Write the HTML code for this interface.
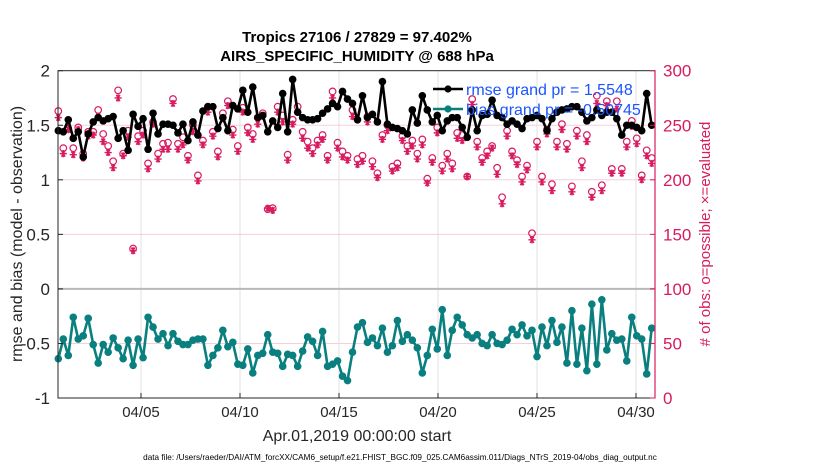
<!DOCTYPE html>
<html><head><meta charset="utf-8"><style>
body{margin:0;background:#fff;}
svg{display:block;font-family:"Liberation Sans",sans-serif;}
</style></head><body>
<svg id="chart" width="830" height="470" viewBox="0 0 830 470">
<g id="grid"></g><g id="marks"></g><g id="axes"></g>
</svg>
<script>
const rmse=[1.45,1.44,1.55,1.38,1.44,1.21,1.42,1.53,1.57,1.54,1.56,1.58,1.38,1.45,1.27,1.60,1.49,1.56,1.28,1.61,1.42,1.51,1.51,1.50,1.43,1.51,1.36,1.53,1.41,1.63,1.67,1.67,1.47,1.57,1.45,1.68,1.65,1.82,1.62,1.85,
1.57,1.59,1.44,1.54,1.48,1.79,1.44,1.92,1.62,1.57,1.55,1.55,1.56,1.61,1.65,1.70,1.67,1.81,1.74,1.70,1.55,1.77,1.57,1.60,1.53,1.90,1.51,1.48,1.47,1.45,1.42,1.64,1.52,1.77,1.64,1.53,1.59,1.45,1.54,
1.57,1.57,1.48,1.39,1.64,1.45,1.59,1.60,1.73,1.59,1.57,1.51,1.54,1.51,1.47,1.56,1.57,1.59,1.56,1.45,1.56,1.62,1.64,1.65,1.67,1.67,1.62,1.54,1.57,1.64,1.59,1.62,1.62,1.56,1.41,1.50,1.50,1.48,1.45,1.79,1.50];
const bias=[-0.64,-0.46,-0.61,-0.26,-0.46,-0.43,-0.27,-0.51,-0.68,-0.51,-0.58,-0.45,-0.54,-0.64,-0.47,-0.70,-0.46,-0.63,-0.26,-0.35,-0.46,-0.41,-0.52,-0.41,-0.48,-0.51,-0.51,-0.47,-0.46,-0.46,-0.70,-0.61,-0.54,-0.38,-0.53,-0.49,-0.69,-0.70,-0.55,-0.77,
-0.61,-0.59,-0.42,-0.58,-0.59,-0.71,-0.60,-0.61,-0.71,-0.57,-0.44,-0.48,-0.61,-0.39,-0.71,-0.69,-0.66,-0.80,-0.84,-0.58,-0.35,-0.31,-0.49,-0.45,-0.52,-0.36,-0.58,-0.52,-0.29,-0.48,-0.42,-0.47,-0.54,-0.77,-0.61,-0.37,-0.55,-0.19,-0.61,
-0.38,-0.26,-0.33,-0.42,-0.45,-0.42,-0.50,-0.52,-0.42,-0.50,-0.51,-0.47,-0.37,-0.42,-0.33,-0.43,-0.38,-0.62,-0.35,-0.52,-0.29,-0.49,-0.35,-0.68,-0.20,-0.69,-0.36,-0.75,-0.14,-0.69,-0.10,-0.56,-0.41,-0.47,-0.46,-0.66,-0.26,-0.43,-0.46,-0.78,-0.36];
const possible=[263,229,247,229,248,224,244,244,264,242,231,217,282,224,245,137,240,245,215,253,224,233,234,274,233,239,222,250,204,236,267,244,226,261,272,246,231,266,248,242,
257,261,173,174,267,259,223,255,267,244,235,229,236,241,222,281,234,226,222,264,219,222,258,217,206,241,250,212,215,240,231,236,224,237,201,220,248,213,224,
215,243,241,203,274,235,220,226,231,211,184,245,226,218,203,213,151,235,203,246,196,235,251,233,194,245,217,241,189,277,195,272,210,272,210,235,254,238,204,227,220];
const evaluated=[257,224,246,223,246,220,240,241,258,235,225,211,275,222,239,135,235,241,210,251,219,228,228,270,228,232,218,244,199,232,262,240,221,256,268,241,226,262,243,237,
251,258,174,172,262,253,218,251,262,238,229,224,232,237,218,275,229,221,218,258,214,217,253,212,202,237,245,208,211,236,226,231,219,232,197,216,243,208,219,
210,238,236,203,269,230,216,222,229,205,178,240,222,214,198,209,145,230,198,242,190,230,246,228,189,240,211,235,184,270,190,268,206,265,206,230,249,233,200,222,215];
const leftTicks=[-1,-0.5,0,0.5,1,1.5,2];
const rightTicks=[0,50,100,150,200,250,300];
const dateTicks=[5,10,15,20,25,30];
const dateLabels=["04/05","04/10","04/15","04/20","04/25","04/30"];

const NS="http://www.w3.org/2000/svg";
const X0=58,X1=655,Y0=70.7,Y1=398;
const yL=v=>Y1-(v+1)/3*(Y1-Y0);
const yR=v=>Y1-v/300*(Y1-Y0);
const xDay=d=>141+(d-5)*19.8;
const xIdx=(i,n)=>58.3+i*(651.7-58.3)/(n-1);
function el(t,a,p){const e=document.createElementNS(NS,t);for(const k in a)e.setAttribute(k,a[k]);p.appendChild(e);return e;}
const grid=document.getElementById('grid'),marks=document.getElementById('marks'),axes=document.getElementById('axes');
el('rect',{x:X0,y:Y0,width:X1-X0,height:Y1-Y0,fill:'#fff'},grid);
dateTicks.forEach(d=>{const l=el('line',{x1:xDay(d),x2:xDay(d),y1:Y0,y2:Y1,stroke:'#e0e0e0','stroke-width':1},grid);

});
[-0.5,0.5,1,1.5].forEach(v=>{const l=el('line',{x1:X0,x2:X1,y1:yL(v),y2:yL(v),stroke:'#f5cfdc','stroke-width':1},grid);

});
const z=el('line',{x1:X0,x2:X1,y1:yL(0),y2:yL(0),stroke:'#b8b8b8','stroke-width':2},grid);



possible.forEach((v,i)=>{const c=el('circle',{cx:xIdx(i,possible.length),cy:yR(v),r:3.3,fill:'none',stroke:'#d81b60','stroke-width':1.2},marks);

});
evaluated.forEach((v,i)=>{const cx=xIdx(i,evaluated.length),cy=yR(v),r=3.6;
const d=`M${cx-r},${cy}H${cx+r}M${cx-r*0.5},${cy-r*0.87}L${cx+r*0.5},${cy+r*0.87}M${cx-r*0.5},${cy+r*0.87}L${cx+r*0.5},${cy-r*0.87}M${cx},${cy-r}V${cy+r}`;
const p=el('path',{d:d,stroke:'#d81b60','stroke-width':1.4,fill:'none'},marks);

});

function series(arr,color,name){
  const pts=arr.map((v,i)=>xIdx(i,arr.length).toFixed(1)+','+yL(v).toFixed(1)).join(' ');
  const pl=el('polyline',{points:pts,fill:'none',stroke:color,'stroke-width':2.6,'stroke-linejoin':'round'},marks);
  
  
  arr.forEach((v,i)=>{const c=el('circle',{cx:xIdx(i,arr.length),cy:yL(v),r:3.8,fill:color},marks);
  
  });
}
series(rmse,'#000','rmse');
series(bias,'#0a7f7f','bias');

el('rect',{x:X0,y:Y0,width:X1-X0,height:Y1-Y0,fill:'none',stroke:'#262626','stroke-width':1},axes);
el('line',{x1:X1,x2:X1,y1:Y0,y2:Y1,stroke:'#d81b60','stroke-width':1.2},axes);
leftTicks.forEach(v=>{el('line',{x1:X0,x2:X0+5,y1:yL(v),y2:yL(v),stroke:'#262626'},axes);
const t=el('text',{x:X0-8,y:yL(v)+6,'text-anchor':'end','font-size':17,fill:'#262626'},axes);t.textContent=String(v);

});
rightTicks.forEach(v=>{el('line',{x1:X1-5,x2:X1,y1:yR(v),y2:yR(v),stroke:'#d81b60'},axes);
const t=el('text',{x:X1+8,y:yR(v)+6,'font-size':17,fill:'#d81b60'},axes);t.textContent=String(v);

});
dateTicks.forEach((d,i)=>{el('line',{x1:xDay(d),x2:xDay(d),y1:Y1-5,y2:Y1,stroke:'#262626'},axes);
const t=el('text',{x:xDay(d),y:417,'text-anchor':'middle','font-size':15,fill:'#262626'},axes);t.textContent=dateLabels[i];

});
</script>
<svg style="position:absolute;left:0;top:0" width="830" height="470">
<text x="357" y="42" text-anchor="middle" font-size="15" font-weight="bold" fill="#000">Tropics 27106 / 27829 = 97.402%</text>
<text x="357" y="61" text-anchor="middle" font-size="15" font-weight="bold" fill="#000">AIRS_SPECIFIC_HUMIDITY @ 688 hPa</text>
<text transform="translate(22,234) rotate(-90)" text-anchor="middle" font-size="16" fill="#262626">rmse and bias (model - observation)</text>
<text transform="translate(710,234) rotate(-90)" text-anchor="middle" font-size="15" fill="#d81b60"># of obs: o=possible; ×=evaluated</text>
<text x="357" y="441" text-anchor="middle" font-size="16" fill="#262626">Apr.01,2019 00:00:00 start</text>
<text x="400" y="460" text-anchor="middle" font-size="8.2" fill="#000">data file: /Users/raeder/DAI/ATM_forcXX/CAM6_setup/f.e21.FHIST_BGC.f09_025.CAM6assim.011/Diags_NTrS_2019-04/obs_diag_output.nc</text>
<g>
<line x1="433" x2="463" y1="89" y2="89" stroke="#000" stroke-width="2.6"/><circle cx="448" cy="89" r="3.6" fill="#000"/>
<text x="466" y="95" font-size="16" fill="#1a55ff">rmse grand pr = 1.5548</text>
<line x1="433" x2="463" y1="109" y2="109" stroke="#0a7f7f" stroke-width="2.6"/><circle cx="448" cy="109" r="3.6" fill="#0a7f7f"/>
<text x="466" y="115" font-size="16" fill="#1a55ff">bias grand pr = -0.50745</text>
</g>
</svg>
</body></html>
